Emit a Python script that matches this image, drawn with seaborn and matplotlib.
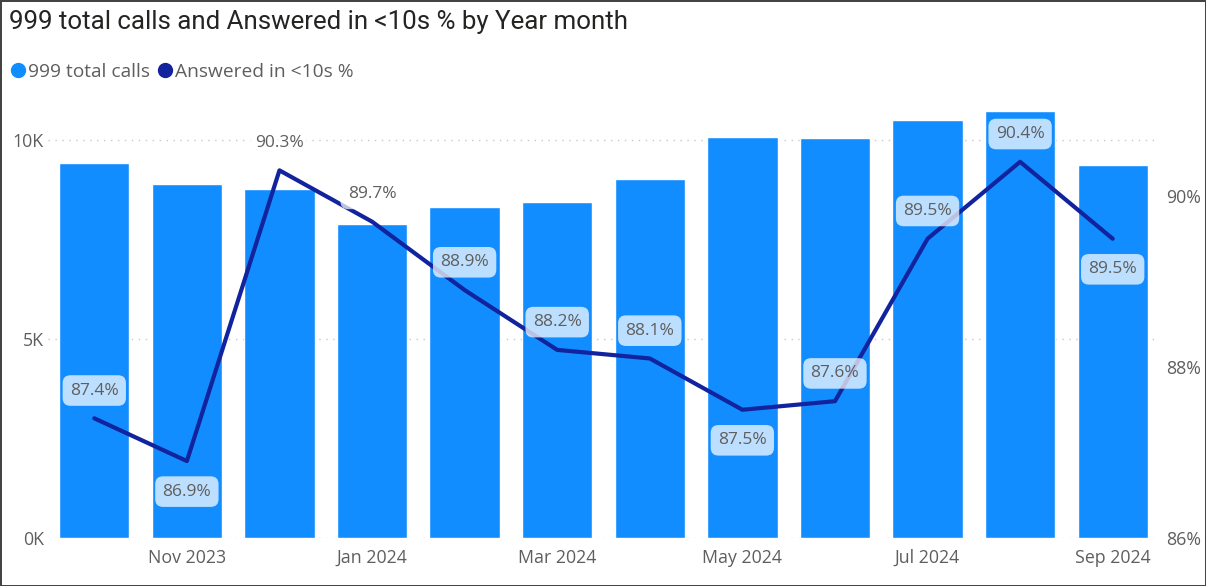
import numpy as np
import pandas as pd
import matplotlib.pyplot as plt
import seaborn as sns
from matplotlib.lines import Line2D
from matplotlib.ticker import FuncFormatter, FixedLocator

# ── Data ──────────────────────────────────────────────
months = ['Oct 2023', 'Nov 2023', 'Dec 2023', 'Jan 2024', 'Feb 2024', 'Mar 2024',
          'Apr 2024', 'May 2024', 'Jun 2024', 'Jul 2024', 'Aug 2024', 'Sep 2024']
total_calls = [9420, 8890, 8770, 7890, 8320, 8440, 9020, 10080, 10050, 10500, 10730, 9370]
answered_pct = [87.4, 86.9, 90.3, 89.7, 88.9, 88.2, 88.1, 87.5, 87.6, 89.5, 90.4, 89.5]
label_side = ['above', 'below', 'above', 'above', 'above', 'above',
              'above', 'below', 'above', 'above', 'above', 'below']
shown_ticks = ['Nov 2023', 'Jan 2024', 'Mar 2024', 'May 2024', 'Jul 2024', 'Sep 2024']

df = pd.DataFrame({'month': months, 'calls': total_calls, 'pct': answered_pct})
df['pos'] = np.arange(len(df))

bar_color = '#118DFF'
line_color = '#12239E'
text_gray = '#605E5C'

# ── Settings ──────────────────────────────────────────
sns.set_theme(style='white')
plt.rcParams['font.family'] = ['Open Sans', 'DejaVu Sans']

fig = plt.figure(figsize=(12.06, 5.86), dpi=100, edgecolor='#444444', linewidth=2)
ax = fig.add_axes([48 / 1206, 1 - 538 / 586, (1159 - 48) / 1206, 438 / 586])

# ── Bars ──────────────────────────────────────────────
sns.barplot(data=df, x='month', y='calls', color=bar_color, saturation=1,
            width=0.76, ax=ax, zorder=2)
ax.set_xlim(-0.5, len(df) - 0.5)
ax.set_ylim(0, 11000)
ax.yaxis.set_major_locator(FixedLocator([0, 5000, 10000]))
ax.yaxis.set_major_formatter(FuncFormatter(lambda v, p: f'{v/1000:.0f}K'))
ax.grid(axis='y', linestyle=(0, (1, 4)), color='#C8C8C8', linewidth=1, zorder=0)
ax.set_axisbelow(True)
ax.set_xlabel('')
ax.set_ylabel('')
ax.set_xticks([months.index(m) for m in shown_ticks])
ax.set_xticklabels(shown_ticks)
ax.tick_params(axis='both', length=0, labelsize=12.8, colors=text_gray)
ax.tick_params(axis='x', pad=8)
ax.tick_params(axis='y', pad=3)
for s in ax.spines.values():
    s.set_visible(False)

# ── Line (secondary axis) ─────────────────────────────
ax2 = ax.twinx()
sns.lineplot(data=df, x='pos', y='pct', color=line_color, linewidth=3, ax=ax2, zorder=3)
ax2.set_ylim(86, 86 + 438 / 85.5)
ax2.yaxis.set_major_locator(FixedLocator([86, 88, 90]))
ax2.yaxis.set_major_formatter(FuncFormatter(lambda v, p: f'{v:.0f}%'))
ax2.tick_params(axis='y', length=0, labelsize=12.8, colors=text_gray, pad=5)
ax2.set_ylabel('')
ax2.set_xlabel('')
ax2.grid(False)
for s in ax2.spines.values():
    s.set_visible(False)

for x, y, side in zip(df['pos'], df['pct'], label_side):
    dy = 20 if side == 'above' else -22
    ax2.annotate(f'{y:.1f}%', (x, y), xytext=(0, dy), textcoords='offset points',
                 ha='center', va='center', fontsize=12.5, color=text_gray, zorder=5,
                 bbox=dict(boxstyle='round,pad=0.42,rounding_size=0.45',
                           fc='white', ec='none', alpha=0.72))

# ── Title & legend ────────────────────────────────────
fig.text(9 / 1206, 1 - 22 / 586, '999 total calls and Answered in <10s % by Year month',
         ha='left', va='center', fontsize=18.6, color='#252423',
         family=['Roboto', 'DejaVu Sans'])

handles = [Line2D([], [], marker='o', linestyle='', color=bar_color, markersize=10),
           Line2D([], [], marker='o', linestyle='', color=line_color, markersize=10)]
fig.legend(handles, ['999 total calls', 'Answered in <10s %'], loc='center left',
           bbox_to_anchor=(-12 / 1206, 1 - 72 / 586), ncol=2, frameon=False,
           handletextpad=-0.1, columnspacing=0.1, handlelength=1.3,
           labelcolor=text_gray, fontsize=13.8)

fig.savefig('out.png', dpi=100)
